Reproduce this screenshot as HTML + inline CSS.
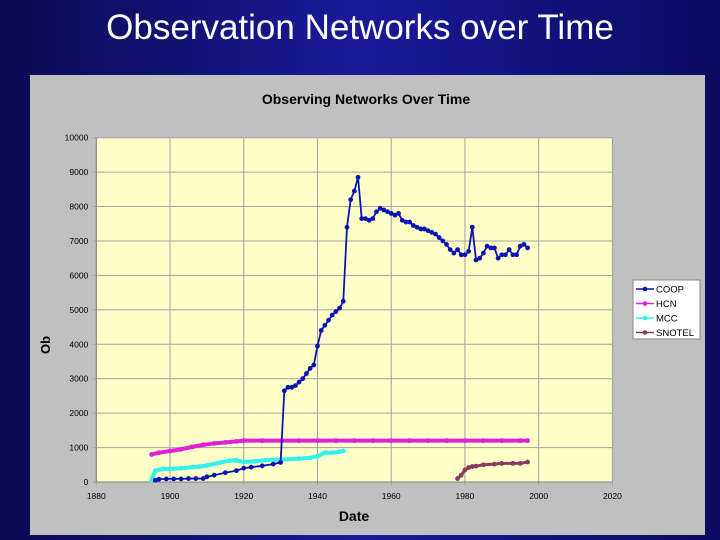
<!DOCTYPE html>
<html><head><meta charset="utf-8"><style>
body{margin:0;width:720px;height:540px;overflow:hidden;background:#0a0a5e;font-family:"Liberation Sans",sans-serif}
#bg{position:absolute;left:0;top:0;width:720px;height:540px;background:linear-gradient(90deg,#0a0a50,#1a1a9a 50%,#0a0a60)}
h1{position:absolute;left:0;top:8px;width:720px;margin:0;text-align:center;color:#fff;font-weight:normal;font-size:35px}
svg{position:absolute;left:0;top:0}
</style></head><body>
<div id="bg"></div>
<h1>Observation Networks over Time</h1>
<svg id="c" width="720" height="540"></svg>
<script>
const coopYears=[1896,1897,1899,1901,1903,1905,1907,1909,1910,1912,1915,1918,1920,1922,1925,1928,1930,1931,1932,1933,1934,1935,1936,1937,1938,1939,1940,1941,1942,1943,1944,1945,1946,1947,1948,1949,1950,1951,1952,1953,1954,1955,1956,1957,1958,1959,1960,1961,1962,1963,1964,1965,1966,1967,1968,1969,1970,1971,1972,1973,1974,1975,1976,1977,1978,1979,1980,1981,1982,1983,1984,1985,1986,1987,1988,1989,1990,1991,1992,1993,1994,1995,1996,1997];
const coopValues=[50,80,90,90,90,100,100,100,150,200,270,330,400,430,470,520,570,2650,2750,2750,2800,2900,3000,3150,3300,3400,3950,4400,4550,4700,4850,4950,5050,5250,7400,8200,8450,8850,7650,7650,7600,7650,7850,7950,7900,7850,7800,7750,7800,7600,7550,7550,7450,7400,7350,7350,7300,7250,7200,7100,7000,6900,6750,6650,6750,6600,6600,6700,7400,6450,6500,6650,6850,6800,6800,6500,6600,6600,6750,6600,6600,6850,6900,6800];
const hcnYears=[1895,1897,1900,1903,1906,1909,1912,1915,1918,1920,1925,1930,1935,1940,1945,1950,1955,1960,1965,1970,1975,1980,1985,1990,1995,1997];
const hcnValues=[800,850,900,950,1020,1080,1120,1150,1180,1200,1200,1200,1200,1200,1200,1200,1200,1200,1200,1200,1200,1200,1200,1200,1200,1200];
const mccYears=[1895,1896,1898,1900,1903,1906,1908,1910,1913,1916,1918,1920,1923,1926,1930,1935,1938,1940,1942,1944,1946,1947];
const mccValues=[50,330,380,380,400,430,450,480,550,620,630,580,600,640,650,680,700,750,850,850,880,900];
const snoYears=[1978,1979,1980,1981,1982,1983,1985,1988,1990,1993,1995,1997];
const snoValues=[100,200,350,420,450,460,500,520,540,540,540,580];
const xTicks=[1880,1900,1920,1940,1960,1980,2000,2020];
const yTicks=[0,1000,2000,3000,4000,5000,6000,7000,8000,9000,10000];
const L=96.3,R=612.4,T=137.7,B=482;
const X=v=>L+(v-1880)/140*(R-L), Y=v=>B-v/10000*(B-T);
const s=document.getElementById('c'),NS='http://www.w3.org/2000/svg';
function el(t,a,p){const e=document.createElementNS(NS,t);for(const k in a)e.setAttribute(k,a[k]);(p||s).appendChild(e);return e;}
let e=el('rect',{x:30,y:75,width:675,height:460,fill:'#c0c0c0'});

e=el('rect',{x:L,y:T,width:R-L,height:B-T,fill:'#ffffc8'});

e=el('text',{x:366,y:104,'text-anchor':'middle','font-size':14,'font-weight':'bold',fill:'#000'});e.textContent='Observing Networks Over Time';

yTicks.forEach(v=>{const l=el('line',{x1:L-3,x2:R,y1:Y(v),y2:Y(v),stroke:'#a0a0a0','stroke-width':1});

const t=el('text',{x:L-8,y:Y(v)+3,'text-anchor':'end','font-size':8.5});t.textContent=v;
});
xTicks.forEach(v=>{const l=el('line',{x1:X(v),x2:X(v),y1:T,y2:B+3,stroke:'#a0a0a0','stroke-width':1});

const t=el('text',{x:X(v),y:B+17,'text-anchor':'middle','font-size':8.5});t.textContent=v;
});
el('line',{x1:L,x2:L,y1:T,y2:B,stroke:'#808080'});el('line',{x1:L,x2:R,y1:B,y2:B,stroke:'#808080'});
e=el('text',{x:354,y:521,'text-anchor':'middle','font-size':14,'font-weight':'bold'});e.textContent='Date';

e=el('text',{x:0,y:0,'text-anchor':'middle','font-size':13,'font-weight':'bold',transform:'translate(50,345) rotate(-90)'});e.textContent='Ob';

function series(xs,ys,col,name,w){const g=el('g',{});

el('polyline',{points:xs.map((x,i)=>X(x)+','+Y(ys[i])).join(' '),fill:'none',stroke:col,'stroke-width':w,'stroke-linejoin':'round'},g);
xs.forEach((x,i)=>{const c=el('circle',{cx:X(x),cy:Y(ys[i]),r:2.4,fill:col},g);
});}
series(hcnYears,hcnValues,'#e020d8','hcn',4);
series(mccYears,mccValues,'#30f0f0','mcc',4);
series(snoYears,snoValues,'#8a3a5e','snotel',3);
series(coopYears,coopValues,'#0a14b4','coop',1.8);
const lg=el('g',{});
el('rect',{x:633,y:280,width:67,height:59,fill:'#fff',stroke:'#888'},lg);
[['COOP','#0a14b4'],['HCN','#e020d8'],['MCC','#30f0f0'],['SNOTEL','#8a3a5e']].forEach((d,i)=>{const y=289+i*14.5;
const g=el('g',{},lg);
el('line',{x1:636,x2:654,y1:y,y2:y,stroke:d[1],'stroke-width':1.6},g);el('circle',{cx:645,cy:y,r:2.3,fill:d[1]},g);
const t=el('text',{x:656,y:y+3.5,'font-size':9.5},g);t.textContent=d[0];});
</script>
</body></html>
